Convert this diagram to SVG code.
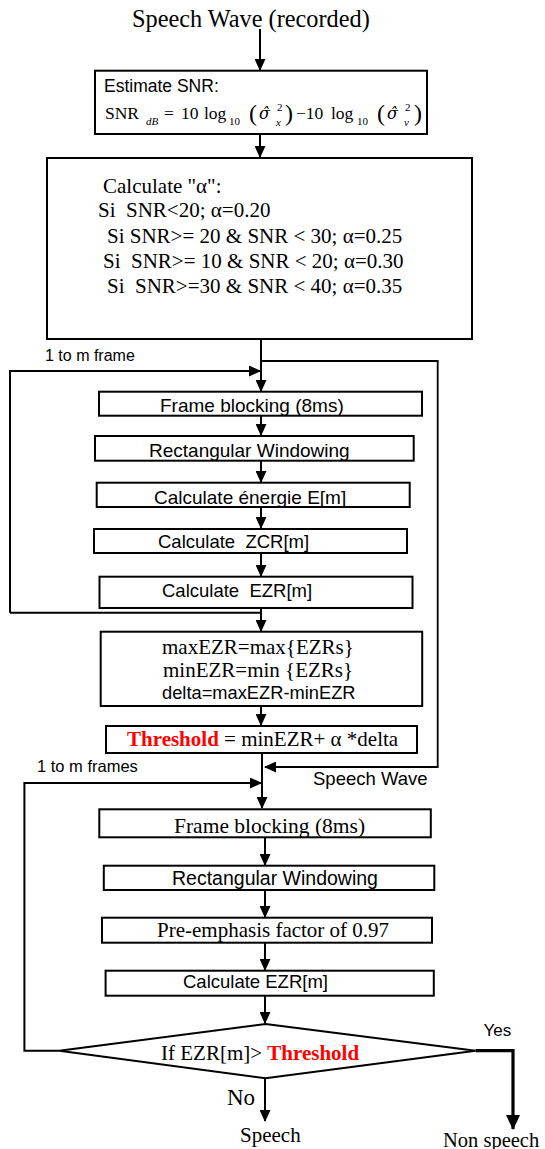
<svg xmlns="http://www.w3.org/2000/svg" width="545" height="1149" viewBox="0 0 545 1149">
<style>
.box{fill:#fff;stroke:#000;stroke-width:2}
.ln{fill:none;stroke:#000;stroke-width:2}
.thin{fill:none;stroke:#000;stroke-width:1.8}
.thick{fill:none;stroke:#000;stroke-width:3.2}
.tm{font-family:"Liberation Serif","Times New Roman",serif;fill:#000}
.dj{font-family:"DejaVu Serif",serif;fill:#000;font-style:italic}
.sn{font-family:"Liberation Sans",Arial,sans-serif;fill:#000}
.red{fill:#ff0000;font-weight:bold}
.it{font-style:italic}
</style>
<defs>
<marker id="ah" markerUnits="userSpaceOnUse" markerWidth="12" markerHeight="11" refX="11" refY="5.5" orient="auto"><path d="M0,0 L12,5.5 L0,11 z" fill="#000"/></marker>
<marker id="ahb" markerUnits="userSpaceOnUse" markerWidth="15" markerHeight="14" refX="14" refY="7" orient="auto"><path d="M0,0 L15,7 L0,14 z" fill="#000"/></marker>
</defs>

<text class="tm" x="132" y="27" font-size="24.3">Speech Wave (recorded)</text>

<g id="connectors">
<path class="ln" d="M260,29 V70" marker-end="url(#ah)"/>
<path class="ln" d="M260,134 V157" marker-end="url(#ah)"/>
<path class="ln" d="M261,339 V391" marker-end="url(#ah)"/>
<path class="ln" d="M10,612.7 H261 M10,612.7 V371 H260" marker-end="url(#ah)"/>
<path class="thin" d="M261,361 H437.7 V767 H265" marker-end="url(#ah)"/>
<path class="ln" d="M261,415.7 V435" marker-end="url(#ah)"/>
<path class="ln" d="M261,460.7 V482" marker-end="url(#ah)"/>
<path class="ln" d="M261,507 V528" marker-end="url(#ah)"/>
<path class="ln" d="M261,553 V576" marker-end="url(#ah)"/>
<path class="ln" d="M261,608 V631" marker-end="url(#ah)"/>
<path class="ln" d="M261,706 V725" marker-end="url(#ah)"/>
<path class="ln" d="M262,753 V808" marker-end="url(#ah)"/>
<path class="ln" d="M59,1050.7 H24.4 V783 H261" marker-end="url(#ah)"/>
<path class="ln" d="M265,837.3 V865" marker-end="url(#ah)"/>
<path class="ln" d="M265,890 V917" marker-end="url(#ah)"/>
<path class="ln" d="M265,942.7 V970" marker-end="url(#ah)"/>
<path class="ln" d="M265,995.7 V1023" marker-end="url(#ah)"/>
<path class="ln" d="M265,1078.3 V1121" marker-end="url(#ah)"/>
<path class="thick" d="M475.6,1050.7 H513 V1129" marker-end="url(#ahb)"/>
</g>

<g id="snr">
<rect class="box" x="95" y="70.7" width="332" height="63.3"/>
<text class="sn" x="104" y="92" font-size="17.5">Estimate SNR:</text>
<text class="tm" x="105" y="119" font-size="17.5">SNR</text>
<text class="tm it" x="146" y="125" font-size="11">dB</text>
<text class="tm" x="164" y="119" font-size="17.5">=</text>
<text class="tm" x="181" y="119" font-size="17.5">10</text>
<text class="tm" x="204" y="119" font-size="17.5">log</text>
<text class="tm" x="229" y="125" font-size="11">10</text>
<text class="tm" x="249" y="121" font-size="24">(</text>
<text class="dj" x="259" y="119" font-size="16">σ̂</text>
<text class="tm" x="277" y="111" font-size="11">2</text>
<text class="tm it" x="276" y="126" font-size="11">x</text>
<text class="tm" x="285" y="121" font-size="24">)</text>
<text class="tm" x="296" y="119" font-size="17.5">−10</text>
<text class="tm" x="331" y="119" font-size="17.5">log</text>
<text class="tm" x="357" y="125" font-size="11">10</text>
<text class="tm" x="377" y="121" font-size="24">(</text>
<text class="dj" x="387" y="119" font-size="16">σ̂</text>
<text class="tm" x="405" y="111" font-size="11">2</text>
<text class="tm it" x="404" y="126" font-size="11">v</text>
<text class="tm" x="414" y="121" font-size="24">)</text>
</g>

<g id="alpha">
<rect class="box" x="47" y="158" width="425" height="181"/>
<text class="tm" x="103" y="193" font-size="21">Calculate "α":</text>
<text class="tm" x="98" y="217" font-size="21" xml:space="preserve">Si  SNR&lt;20; α=0.20</text>
<text class="tm" x="107" y="243" font-size="21" xml:space="preserve">Si SNR&gt;= 20 &amp; SNR &lt; 30; α=0.25</text>
<text class="tm" x="103" y="268" font-size="21" xml:space="preserve">Si  SNR&gt;= 10 &amp; SNR &lt; 20; α=0.30</text>
<text class="tm" x="107" y="293" font-size="21" xml:space="preserve">Si  SNR&gt;=30 &amp; SNR &lt; 40; α=0.35</text>
</g>

<g id="label-loop1"><text class="sn" x="45" y="361" font-size="16">1 to m frame</text></g>

<g id="frame1">
<rect class="box" x="99" y="391.7" width="323" height="24"/>
<text class="sn" x="160" y="412" font-size="19">Frame blocking (8ms)</text>
</g>
<g id="window1">
<rect class="box" x="95" y="436" width="318.7" height="24.7"/>
<text class="sn" x="149" y="456.7" font-size="19">Rectangular Windowing</text>
</g>
<g id="energy">
<rect class="box" x="96.7" y="482.7" width="313" height="24.3"/>
<text class="sn" x="154" y="504" font-size="19">Calculate énergie E[m]</text>
</g>
<g id="zcr">
<rect class="box" x="94" y="529" width="313" height="24"/>
<text class="sn" x="158" y="548" font-size="18.5" xml:space="preserve">Calculate  ZCR[m]</text>
</g>
<g id="ezr1">
<rect class="box" x="99.5" y="576.7" width="313" height="31.3"/>
<text class="sn" x="162" y="597" font-size="18.5" xml:space="preserve">Calculate  EZR[m]</text>
</g>

<g id="minmax">
<rect class="box" x="100.7" y="631.7" width="321.5" height="74.3"/>
<text class="tm" x="162" y="654" font-size="21">maxEZR=max{EZRs}</text>
<text class="tm" x="163" y="677" font-size="21">minEZR=min {EZRs}</text>
<text class="sn" x="162" y="699" font-size="18.3">delta=maxEZR-minEZR</text>
</g>

<g id="threshold">
<rect class="box" x="106" y="726" width="311" height="27"/>
<text class="tm" x="127" y="745.7" font-size="21"><tspan class="red">Threshold</tspan> = minEZR+ α *delta</text>
</g>

<g id="label-speechwave"><text class="sn" x="313" y="785" font-size="18.5">Speech Wave</text></g>
<g id="label-loop2"><text class="sn" x="37" y="772" font-size="16.5">1 to m frames</text></g>

<g id="frame2">
<rect class="box" x="99.3" y="809.3" width="331.5" height="28"/>
<text class="tm" x="174" y="833.3" font-size="21.5">Frame blocking (8ms)</text>
</g>
<g id="window2">
<rect class="box" x="103.8" y="865.7" width="330.5" height="24.3"/>
<text class="sn" x="172" y="885" font-size="19.5">Rectangular Windowing</text>
</g>
<g id="preemph">
<rect class="box" x="102" y="917.7" width="330" height="25"/>
<text class="tm" x="157" y="936.7" font-size="21">Pre-emphasis factor of 0.97</text>
</g>
<g id="ezr2">
<rect class="box" x="105.6" y="970.7" width="328.2" height="25"/>
<text class="sn" x="183" y="988.3" font-size="18.5">Calculate EZR[m]</text>
</g>

<g id="decision">
<path class="box" d="M265.5,1024 L475.6,1050.7 L265.5,1078.3 L59.2,1050.7 Z"/>
<text class="tm" x="161" y="1060" font-size="21">If EZR[m]&gt; <tspan class="red">Threshold</tspan></text>
</g>

<g id="label-yes"><text class="sn" x="483.6" y="1036" font-size="17">Yes</text></g>
<g id="label-no"><text class="tm" x="227" y="1105" font-size="23">No</text></g>
<g id="speech"><text class="tm" x="240" y="1141.7" font-size="21">Speech</text></g>
<g id="nonspeech"><text class="tm" x="443" y="1146.5" font-size="20.5">Non speech</text></g>
</svg>
